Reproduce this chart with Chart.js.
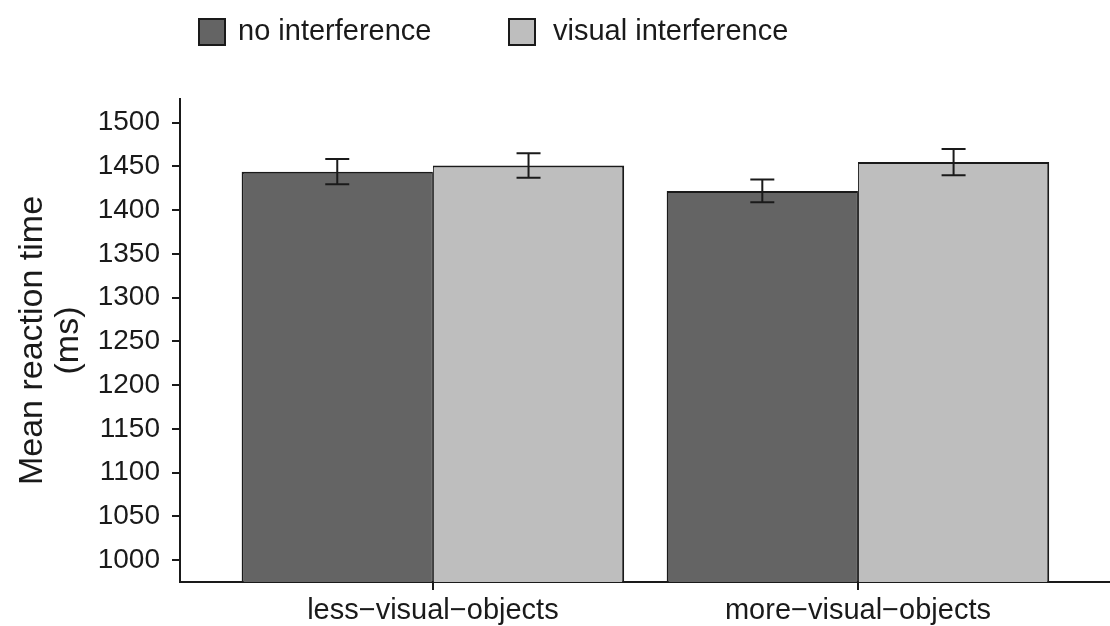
<!DOCTYPE html>
<html>
<head>
<meta charset="utf-8">
<script src="https://cdn.jsdelivr.net/npm/chart.js@4.4.1/dist/chart.umd.min.js"></script>
<style>
  html, body { margin: 0; padding: 0; background: #fff; }
  #wrap { width: 1110px; height: 626px; position: relative; }
</style>
</head>
<body>
<div id="wrap"><canvas id="chart"></canvas></div>
<script>
// ================== Data ==================
const categories = ["less\u2212visual\u2212objects", "more\u2212visual\u2212objects"];
const seriesNames = ["no interference", "visual interference"];
const noInterference = [1444, 1422];
const noInterferenceErr = [14.5, 13];
const visualInterference = [1451, 1455];
const visualInterferenceErr = [14, 15];
const yTicks = [1000, 1050, 1100, 1150, 1200, 1250, 1300, 1350, 1400, 1450, 1500];
const yMin = 975;
const yMax = 1527;

const FONT = '"Liberation Sans", Arial, Helvetica, sans-serif';
const INK = '#1a1a1a';

// categories sit at x = 1, 2 on a linear axis
const toPoints = vals => vals.map((v, i) => ({ x: i + 1, y: v }));

// ================== Error bars ==================
const errorBars = {
    id: 'errorBars',
    afterDatasetsDraw(chart) {
        const { ctx } = chart;
        const yScale = chart.scales.y;
        ctx.save();
        ctx.strokeStyle = INK;
        ctx.lineWidth = 2;
        chart.data.datasets.forEach((ds, di) => {
            const meta = chart.getDatasetMeta(di);
            meta.data.forEach((bar, i) => {
                const v = ds.data[i].y;
                const e = ds.errors[i];
                const top = yScale.getPixelForValue(v + e);
                const bot = yScale.getPixelForValue(v - e);
                const hw = 12;
                ctx.beginPath();
                ctx.moveTo(bar.x, top); ctx.lineTo(bar.x, bot);
                ctx.moveTo(bar.x - hw, top); ctx.lineTo(bar.x + hw, top);
                ctx.moveTo(bar.x - hw, bot); ctx.lineTo(bar.x + hw, bot);
                ctx.stroke();
            });
        });
        ctx.restore();
    }
};

// ================== Legend (top left) ==================
const topLegend = {
    id: 'topLegend',
    afterDraw(chart) {
        const { ctx } = chart;
        const boxX = [198, 508];
        const textX = [238, 553];
        ctx.save();
        chart.data.datasets.forEach((ds, i) => {
            const x = boxX[i];
            ctx.fillStyle = ds.backgroundColor;
            ctx.fillRect(x, 18, 28, 28);
            ctx.strokeStyle = INK;
            ctx.lineWidth = 2;
            ctx.strokeRect(x + 1, 19, 26, 26);
            ctx.fillStyle = INK;
            ctx.font = '29px ' + FONT;
            ctx.textBaseline = 'middle';
            ctx.textAlign = 'left';
            ctx.fillText(ds.label, textX[i], 32);
        });
        ctx.restore();
    }
};

// ================== Chart ==================
new Chart(document.getElementById('chart'), {
    type: 'bar',
    data: {
        datasets: [{
            label: seriesNames[0],
            data: toPoints(noInterference),
            errors: noInterferenceErr,
            backgroundColor: '#646464',
            borderColor: INK,
            borderWidth: { top: 2, left: 2, right: 1, bottom: 0 },
            base: yMin
        }, {
            label: seriesNames[1],
            data: toPoints(visualInterference),
            errors: visualInterferenceErr,
            backgroundColor: '#bebebe',
            borderColor: INK,
            borderWidth: { top: 2, left: 1, right: 2, bottom: 0 },
            base: yMin
        }]
    },
    options: {
        responsive: true,
        maintainAspectRatio: false,
        animation: false,
        layout: { padding: { top: 99, left: 0, right: 0, bottom: 0 } },
        datasets: { bar: { categoryPercentage: 0.9, barPercentage: 1.0 } },
        plugins: {
            legend: { display: false },
            tooltip: { enabled: false }
        },
        scales: {
            x: {
                type: 'linear',
                min: 0.405,
                max: 2.593,
                offset: false,
                afterBuildTicks: scale => { scale.ticks = categories.map((c, i) => ({ value: i + 1 })); },
                afterFit: scale => { scale.height = 44; },
                ticks: {
                    callback: v => categories[Math.round(v) - 1],
                    color: INK,
                    font: { family: FONT, size: 29 },
                    padding: 4,
                    autoSkip: false,
                    maxRotation: 0
                },
                grid: { offset: false, drawOnChartArea: false, drawTicks: true, tickLength: 8, color: INK, lineWidth: 2 },
                border: { display: true, color: INK, width: 2 }
            },
            y: {
                min: yMin,
                max: yMax,
                afterBuildTicks: scale => { scale.ticks = yTicks.map(v => ({ value: v })); },
                afterFit: scale => { scale.width = 180; },
                ticks: {
                    callback: v => String(v),
                    color: INK,
                    font: { family: FONT, size: 28 },
                    padding: 12
                },
                grid: { drawOnChartArea: false, drawTicks: true, tickLength: 8, color: INK, lineWidth: 2 },
                border: { display: true, color: INK, width: 2 },
                title: {
                    display: true,
                    text: ['Mean reaction time', '(ms)'],
                    color: INK,
                    font: { family: FONT, size: 34, lineHeight: 1.05 },
                    padding: { top: 15, bottom: 0 }
                }
            }
        }
    },
    plugins: [errorBars, topLegend]
});
</script>
</body>
</html>
